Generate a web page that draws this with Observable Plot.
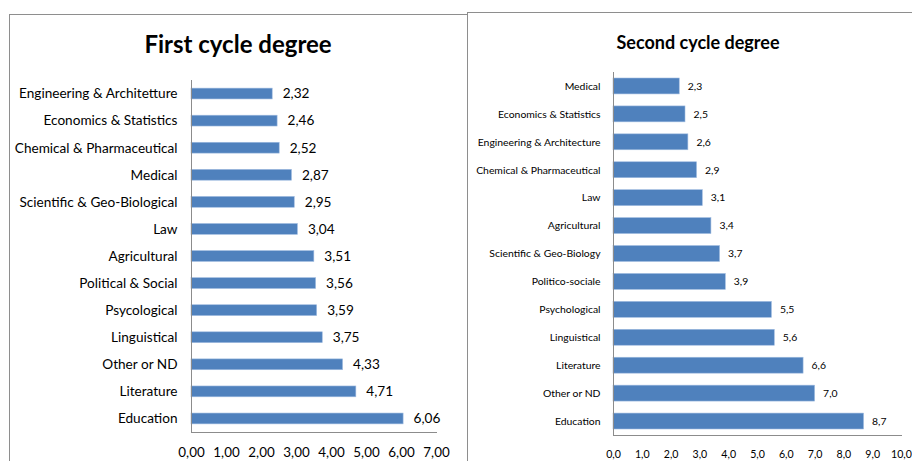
<!DOCTYPE html>
<html>
<head>
<meta charset="utf-8">
<script src="https://cdn.jsdelivr.net/npm/d3@7"></script>
<script src="https://cdn.jsdelivr.net/npm/@observablehq/plot@0.6"></script>
<style>
  html, body { margin: 0; padding: 0; background: #fff; }
  #page { position: relative; width: 912px; height: 461px; overflow: hidden; background: #fff; }
  .panel { position: absolute; border: 1px solid #8e8e8e; background: #fff; }
  .title { position: absolute; font-family: Lato, "Open Sans", sans-serif; font-weight: bold; color: #000; text-align: center; white-space: nowrap; }
  .chart { position: absolute; top: 0; }
</style>
</head>
<body>
<div id="page">
  <div class="panel" style="left:9px; top:14px; width:457px; height:470px;"></div>
  <div class="panel" style="left:467px; top:12px; width:460px; height:470px;"></div>
  <div class="title" style="left:9px; width:458px; top:29px; font-size:24px;">First cycle degree</div>
  <div class="title" style="left:467px; width:462px; top:31px; font-size:18px;">Second cycle degree</div>
  <div class="chart" id="first" style="left:0px;"></div>
  <div class="chart" id="second" style="left:467px;"></div>
</div>
<script>
// First cycle degree: fields in the order shown (top to bottom)
const firstFields = [
  "Engineering & Architetture", "Economics & Statistics", "Chemical & Pharmaceutical",
  "Medical", "Scientific & Geo-Biological", "Law", "Agricultural", "Political & Social",
  "Psycological", "Linguistical", "Other or ND", "Literature", "Education"
];
const firstValues = [2.32, 2.46, 2.52, 2.87, 2.95, 3.04, 3.51, 3.56, 3.59, 3.75, 4.33, 4.71, 6.06];
const firstTicks = [0, 1, 2, 3, 4, 5, 6, 7];

// Second cycle degree
const secondFields = [
  "Medical", "Economics & Statistics", "Engineering & Architecture", "Chemical & Pharmaceutical",
  "Law", "Agricultural", "Scientific & Geo-Biology", "Politico-sociale", "Psychological",
  "Linguistical", "Literature", "Other or ND", "Education"
];
const secondValues = [2.3, 2.5, 2.6, 2.9, 3.1, 3.4, 3.7, 3.9, 5.5, 5.6, 6.6, 7.0, 8.7];
const secondTicks = [0, 1, 2, 3, 4, 5, 6, 7, 8, 9, 10];

const comma = (digits) => (v) => d3.format(`.${digits}f`)(v).replace(".", ",");

function barChart({fields, values, ticks, digits, width, height, marginLeft, marginRight, marginTop, marginBottom,
                   padding, labelFont, labelSize, labelGap, valueGap, tickFont, tickSize, tickGap}) {
  const rows = fields.map((field, i) => ({field, value: values[i]}));
  const fmt = comma(digits);
  return Plot.plot({
    width, height, marginLeft, marginRight, marginTop, marginBottom,
    style: {background: "transparent", overflow: "visible"},
    x: {domain: [ticks[0], ticks[ticks.length - 1]]},
    y: {domain: fields, paddingInner: padding, paddingOuter: padding / 2, round: false},
    marks: [
      Plot.barX(rows, {x: "value", y: "field", fill: "#4f81bd", stroke: "#9fbbe0", strokeWidth: 0.6}),
      Plot.text(rows, {
        x: "value", y: "field", text: (d) => fmt(d.value), textAnchor: "start", dx: valueGap,
        fontSize: labelSize, fontFamily: labelFont, fill: "#000"
      }),
      Plot.axisY({tickSize: 0, tickPadding: labelGap, fontSize: labelSize, fontFamily: labelFont, label: null, color: "#000"}),
      Plot.axisX({ticks, tickSize: 0, tickPadding: tickGap, tickFormat: fmt, fontSize: tickSize, fontFamily: tickFont, label: null, color: "#000"}),
      Plot.frame({anchor: "left", stroke: "#8c8c8c"}),
      Plot.frame({anchor: "bottom", stroke: "#8c8c8c"})
    ]
  });
}

document.getElementById("first").appendChild(barChart({
  fields: firstFields, values: firstValues, ticks: firstTicks, digits: 2,
  width: 467, height: 461, marginLeft: 191, marginRight: 31, marginTop: 80, marginBottom: 29,
  padding: 0.6, labelFont: "Lato, 'Open Sans', sans-serif", labelSize: 13.6, labelGap: 14, valueGap: 10,
  tickFont: "Lato, 'Open Sans', sans-serif", tickSize: 13.4, tickGap: 15
}));

document.getElementById("second").appendChild(barChart({
  fields: secondFields, values: secondValues, ticks: secondTicks, digits: 1,
  width: 445, height: 461, marginLeft: 146, marginRight: 11, marginTop: 72, marginBottom: 26,
  padding: 0.43, labelFont: "Lato, 'Open Sans', sans-serif", labelSize: 10.4, labelGap: 13, valueGap: 8,
  tickFont: "Lato, 'Open Sans', sans-serif", tickSize: 10.6, tickGap: 15
}));
</script>
</body>
</html>
